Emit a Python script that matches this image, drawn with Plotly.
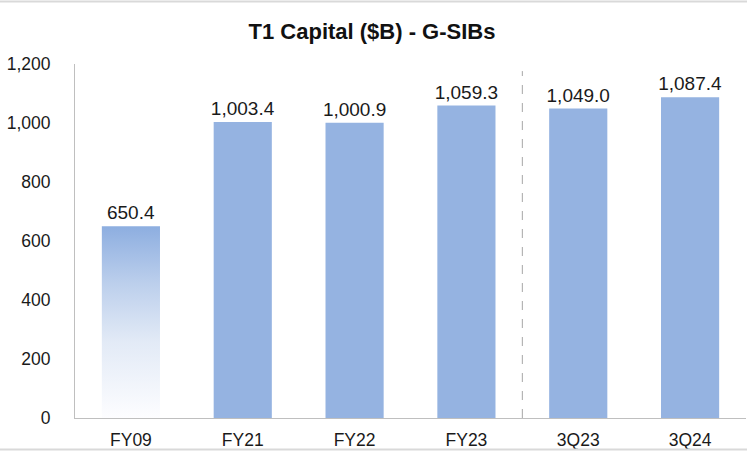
import plotly.graph_objects as go

# T1 capital of G-SIBs, $B
periods = ['FY09', 'FY21', 'FY22', 'FY23', '3Q23', '3Q24']
t1_capital = [650.4, 1003.4, 1000.9, 1059.3, 1049.0, 1087.4]
y_ticks = [0, 200, 400, 600, 800, 1000, 1200]

bar_blue = '#95B3E1'
bar_width = 0.52
font = 'Liberation Sans, Arial, sans-serif'

# FY09 bar is drawn faded (gradient) on top of a transparent bar
bar_colors = ['rgba(0,0,0,0)'] + [bar_blue] * (len(periods) - 1)

bars = go.Bar(x=periods, y=t1_capital,
              marker=dict(color=bar_colors, line=dict(width=0)),
              width=bar_width,
              texttemplate='%{y:,.1f}', textposition='outside',
              constraintext='none',
              textfont=dict(family=font, size=19, color='#1a1a1a'),
              cliponaxis=False, hoverinfo='skip', showlegend=False)

i0 = 0
v0 = t1_capital[0]
fade = go.Scatter(x=[i0 - bar_width / 2, i0 + bar_width / 2, i0 + bar_width / 2, i0 - bar_width / 2, i0 - bar_width / 2],
                  y=[0, 0, v0, v0, 0],
                  xaxis='x2', mode='lines', line=dict(width=0),
                  fill='toself',
                  fillgradient=dict(type='vertical',
                                    colorscale=[[0, '#FDFDFF'], [0.4, '#E2EAF6'], [0.7, '#BCCFEC'], [1, '#8DAEE0']]),
                  hoverinfo='skip', showlegend=False)

fig = go.Figure(data=[bars, fade])

fig.update_layout(
    width=747, height=451,
    margin=dict(l=75, r=1, t=64, b=33),
    paper_bgcolor='white', plot_bgcolor='white',
    bargap=0.48,
    title=dict(text='<b>T1 Capital ($B) - G-SIBs</b>', x=372 / 747, xanchor='center',
               y=1 - 31 / 451, yanchor='middle', yref='container',
               font=dict(family=font, size=22, color='#111111')),
    xaxis=dict(type='category', categoryorder='array', categoryarray=periods,
               range=[-0.5, len(periods) - 0.5],
               showline=True, linecolor='#BFBFBF', linewidth=1,
               showgrid=False, ticks='', ticklabelstandoff=6,
               tickfont=dict(family=font, size=17.5, color='#1a1a1a')),
    xaxis2=dict(overlaying='x', range=[-0.5, len(periods) - 0.5], visible=False),
    yaxis=dict(range=[0, 1200], tickvals=y_ticks, tickformat=',d',
               showline=True, linecolor='#BFBFBF', linewidth=1,
               showgrid=False, zeroline=False, ticks='', ticklabelstandoff=20,
               tickfont=dict(family=font, size=17.5, color='#1a1a1a')),
    shapes=[
        # separator between fiscal years and quarters
        dict(type='line', xref='x', yref='paper', x0=3.5, x1=3.5, y0=0, y1=0.98,
             line=dict(color='#A6A6A6', width=1, dash='dash')),
        # light frame of the chart
        dict(type='line', xref='paper', yref='paper', x0=-0.2, x1=1.01,
             y0=(418 - 1.5) / 354, y1=(418 - 1.5) / 354,
             line=dict(color='#D9D9D9', width=2)),
        dict(type='line', xref='paper', yref='paper', x0=-0.2, x1=1.01,
             y0=(418 - 449.5) / 354, y1=(418 - 449.5) / 354,
             line=dict(color='#D9D9D9', width=2)),
    ],
)

fig.write_html("out.html", config={'displayModeBar': False},
               post_script="document.body.style.margin='0';")
